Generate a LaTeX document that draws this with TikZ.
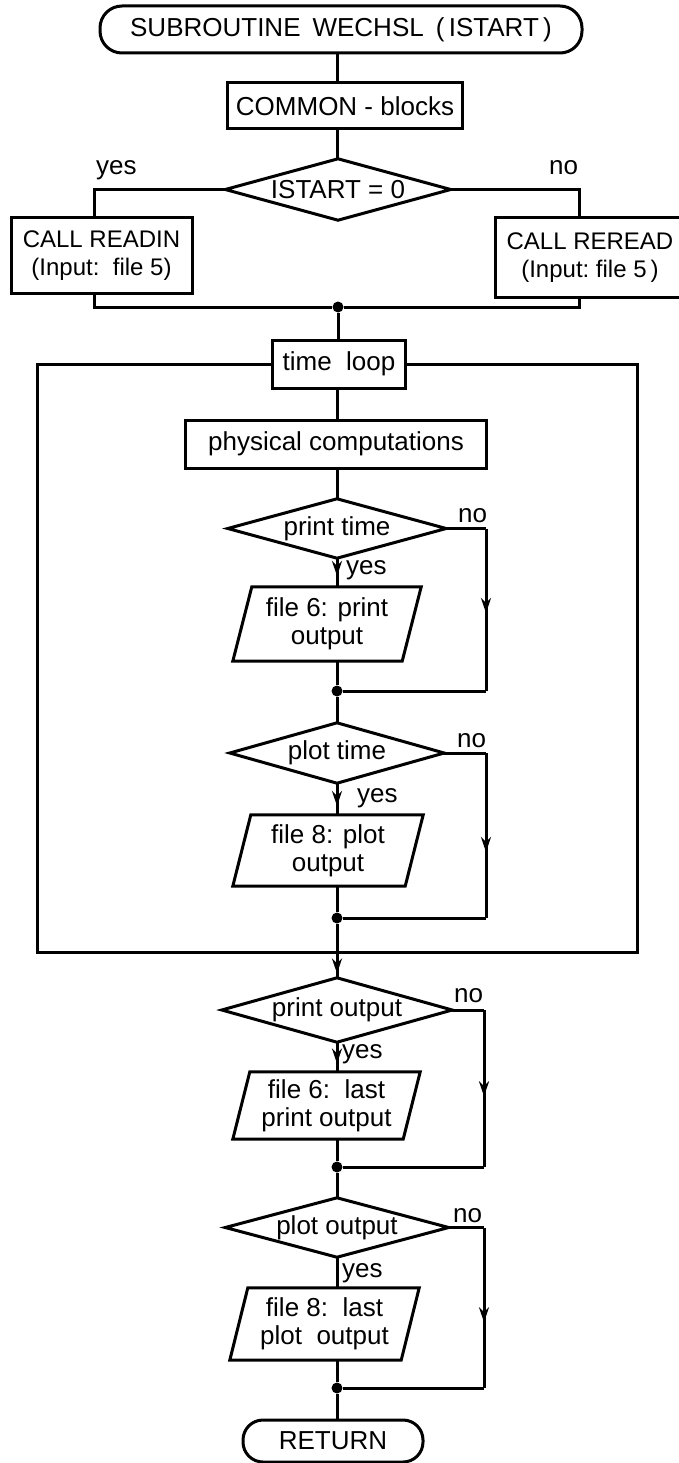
\documentclass[tikz,border=0pt]{standalone}
\usepackage{fontspec}
\setmainfont{Liberation Sans}
\usetikzlibrary{arrows.meta,decorations.markings,calc}
\tikzset{
  every node/.style={font=\fontsize{26}{28}\selectfont},
  conn/.style={line width=3pt},
  boxnode/.style={draw, line width=3pt, inner sep=0pt, align=center},
  callbox/.style={boxnode, font=\fontsize{24}{28}\selectfont},
  termnode/.style={draw, line width=3pt, rounded corners=20pt, inner sep=0pt},
  diaframe/.style={inner sep=0pt, align=center},
  lbl/.style={inner sep=0pt, anchor=base west},
  midarrow/.style={postaction={decorate}, decoration={markings, mark=at position #1 with {\arrow{Stealth[length=15pt,width=10pt]}}}},
  joindot/.style={circle, fill, inner sep=0pt, minimum size=11pt},
}
\newcommand\drawdia[1]{\draw[conn] (#1.north) -- (#1.east) -- (#1.south) -- (#1.west) -- cycle;}
\newcommand\drawpar[2]{\draw[conn] ($(#1.north west)+(#2,0)$) -- (#1.north east) -- ($(#1.south east)-(#2,0)$) -- (#1.south west) -- cycle;}
\begin{document}
\begin{tikzpicture}[x=1pt,y=-1pt]
\useasboundingbox (0,0) rectangle (678,1463);
\coordinate (ax) at (337,0);
% top
\node[termnode, minimum width=482pt, minimum height=47pt, rounded corners=22pt] (start) at (341,29.5) {SUBROUTINE\hspace{12pt}WECHSL\hspace{12pt}(\,ISTART\,)};
\node[boxnode, minimum width=235pt, minimum height=46pt] (common) at (345,106) {COMMON - blocks};
\node[diaframe, minimum width=225pt, minimum height=61pt] (d0) at (338,189.5) {ISTART = 0};
\drawdia{d0}
\node[callbox, minimum width=181pt, minimum height=75pt] (readin) at (101.5,255.5) {CALL READIN\\(Input:\ \ file 5)};
\node[callbox, minimum width=190pt, minimum height=79pt] (reread) at (590,257.5) {CALL REREAD\\(Input:\ file 5\,)};
\coordinate (yl) at (94,189.5);
\coordinate (yr) at (579,189.5);
\node[joindot] (j0) at (338,307) {};
\node[lbl] (yes0) at (96,175) {yes};
\node[lbl] (no0) at (549,175) {no};
% loop
\node[boxnode, minimum width=133pt, minimum height=48pt] (tl) at (339,364) {time\ \ loop};
\node[boxnode, minimum width=301pt, minimum height=48pt] (phys) at (336,444) {physical computations};
\node[diaframe, minimum width=218pt, minimum height=59pt] (d1) at (337,528.5) {print time};
\drawdia{d1}
\node[diaframe, minimum width=188pt, minimum height=74pt] (p1) at (327,624) {file 6: print\\output};
\drawpar{p1}{19}
\node[joindot] (j1) at (337,691) {};
\node[diaframe, minimum width=214pt, minimum height=60pt] (d2) at (337,753) {plot time};
\drawdia{d2}
\node[diaframe, minimum width=190pt, minimum height=71pt] (p2) at (328,850.5) {file 8: plot\\output};
\drawpar{p2}{18}
\node[joindot] (j2) at (337,918) {};
\coordinate (r1) at (486,691);
\coordinate (r2) at (486,918);
\coordinate (lbl) at (37,952);
\coordinate (lbr) at (637,952);
\node[lbl] (yes1) at (346,574) {yes};
\node[lbl] (no1) at (458,522) {no};
\node[lbl] (yes2) at (357,802) {yes};
\node[lbl] (no2) at (457,747) {no};
% after loop
\node[diaframe, minimum width=230pt, minimum height=64pt] (d3) at (337,1010) {print output};
\drawdia{d3}
\node[diaframe, minimum width=187pt, minimum height=67pt] (p3) at (326.5,1105.5) {file 6:\ \ last\\print output};
\drawpar{p3}{17}
\node[joindot] (j3) at (337,1167) {};
\node[diaframe, minimum width=223pt, minimum height=59pt] (d4) at (337,1227.5) {plot output};
\drawdia{d4}
\node[diaframe, minimum width=189pt, minimum height=72pt] (p4) at (324.5,1324) {file 8:\ \ last\\plot\ \ output};
\drawpar{p4}{18}
\node[joindot] (j4) at (337,1388) {};
\node[termnode, minimum width=180pt, minimum height=42pt] (ret) at (333,1441) {RETURN};
\coordinate (r3) at (484,1167);
\coordinate (r4) at (484,1388);
\node[lbl] (yes3) at (342,1058) {yes};
\node[lbl] (no3) at (454,1002) {no};
\node[lbl] (yes4) at (342,1277) {yes};
\node[lbl] (no4) at (453,1222) {no};
% connectors
\draw[conn] (start.south -| ax) -- (common.north -| ax);
\draw[conn] (common.south -| ax) -- (d0.north -| ax);
\draw[conn] (d0.west) -| (readin.north -| yl);
\draw[conn] (d0.east) -| (reread.north -| yr);
\draw[conn] (readin.south -| yl) |- (j0);
\draw[conn] (reread.south -| yr) |- (j0);
\draw[conn] (j0) -- (tl.north -| j0);
\draw[conn] (tl.south -| ax) -- (phys.north -| ax);
\draw[conn] (phys.south -| ax) -- (d1.north);
\draw[conn, midarrow=0.62] (d1.south) -- (p1.north -| ax);
\draw[conn] (p1.south -| ax) -- (j1);
\draw[conn] (d1.east) -- (d1.east -| r1);
\draw[conn, midarrow=0.52] (d1.east -| r1) -- (r1);
\draw[conn] (r1) -- (j1);
\draw[conn] (j1) -- (d2.north);
\draw[conn, midarrow=0.72] (d2.south) -- (p2.north -| ax);
\draw[conn] (p2.south -| ax) -- (j2);
\draw[conn] (d2.east) -- (d2.east -| r2);
\draw[conn, midarrow=0.6] (d2.east -| r2) -- (r2);
\draw[conn] (r2) -- (j2);
\draw[conn] (tl.west) -| (lbl) -- (lbr) |- (tl.east);
\draw[conn, midarrow=0.92] (j2) -- (d3.north);
\draw[conn, midarrow=0.72] (d3.south) -- (p3.north -| ax);
\draw[conn] (p3.south -| ax) -- (j3);
\draw[conn] (d3.east) -- (d3.east -| r3);
\draw[conn, midarrow=0.55] (d3.east -| r3) -- (r3);
\draw[conn] (r3) -- (j3);
\draw[conn] (j3) -- (d4.north);
\draw[conn] (d4.south) -- (p4.north -| ax);
\draw[conn] (p4.south -| ax) -- (j4);
\draw[conn] (d4.east) -- (d4.east -| r4);
\draw[conn, midarrow=0.59] (d4.east -| r4) -- (r4);
\draw[conn] (r4) -- (j4);
\draw[conn] (j4) -- (ret.north -| ax);
\end{tikzpicture}
\end{document}
